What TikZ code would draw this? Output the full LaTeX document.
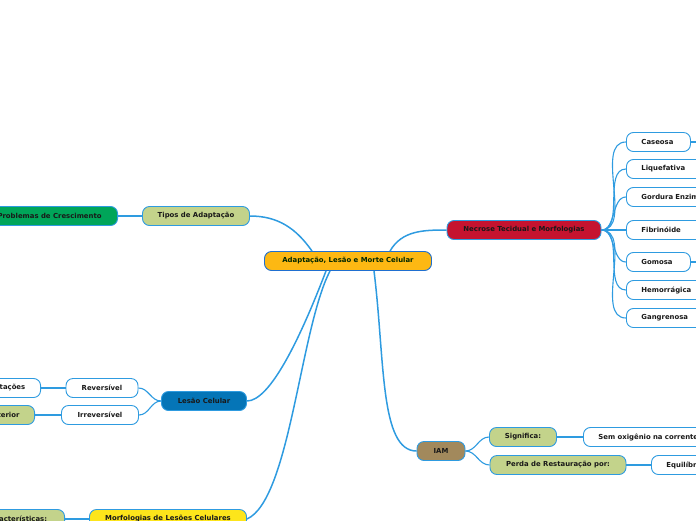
\documentclass[tikz,border=0pt]{standalone}
\usepackage{fontspec}
\setmainfont{DejaVu Sans}
\usepackage{tikz}
\usetikzlibrary{arrows}

\definecolor{linkblue}{HTML}{2E9BE0}
\definecolor{rootfill}{HTML}{FDB813}
\definecolor{rootline}{HTML}{1F6FD0}
\definecolor{olivefill}{HTML}{C3D38B}
\definecolor{greenfill}{HTML}{00A559}
\definecolor{crimsonfill}{HTML}{C5132F}
\definecolor{bluefill}{HTML}{0575B7}
\definecolor{brownfill}{HTML}{A2895C}
\definecolor{yellowfill}{HTML}{FDE51B}

\tikzset{
  topic/.style={draw=linkblue, line width=0.9pt, rounded corners=7pt,
    minimum height=19pt, inner sep=2pt, text=black!90,
    font=\fontsize{6.9}{8}\selectfont\bfseries},
  leaf/.style={topic, fill=white},
  leftleaf/.style={leaf, align=left, inner xsep=15pt, text width=#1, anchor=west},
  link/.style={draw=linkblue, line width=1.1pt},
  mainlink/.style={draw=linkblue, line width=1.5pt}
}

\begin{document}
\begin{tikzpicture}[x=1pt,y=1pt]
		\useasboundingbox (0,0) rectangle (696,-520);
		\clip (0,0) rectangle (696,-520);

		% --- centre ---
		\node[topic, fill=rootfill, draw=rootline, text=black!75!green!60!black, minimum width=167pt] (root) at (348,-261) {Adaptação, Lesão e Morte Celular};

		% --- upper left: adaptation ---
		\node[topic, fill=olivefill, minimum width=107pt] (tipos) at (196,-216) {Tipos de Adaptação};
		\node[topic, fill=greenfill, minimum width=136pt, anchor=east] (cresc) at (118,-216) {Problemas de Crescimento};

		% --- right: necrosis ---
		\node[topic, fill=crimsonfill, minimum width=154pt] (necrose) at (524,-230) {Necrose Tecidual e Morfologias};
		\node[leftleaf=34pt] (caseosa) at (626,-142) {Caseosa};
		\node[leftleaf=60pt] (liquef) at (626,-169) {Liquefativa};
		\node[leftleaf=90pt] (gordura) at (626,-197) {Gordura Enzimática};
		\node[leftleaf=60pt] (fibrin) at (626,-230) {Fibrinóide};
		\node[leftleaf=34pt] (gomosa) at (626,-262) {Gomosa};
		\node[leftleaf=60pt] (hemorr) at (626,-290) {Hemorrágica};
		\node[leftleaf=60pt] (gangren) at (626,-318) {Gangrenosa};
		\coordinate (caseosaout) at (710,-142);
		\coordinate (gomosaout) at (710,-262);

		% --- lower left: cell injury ---
		\node[topic, fill=bluefill, minimum width=85pt] (lesao) at (204,-401) {Lesão Celular};
		\node[leaf, minimum width=72pt] (revers) at (102,-388) {Reversível};
		\node[leaf, minimum width=77pt] (irrevers) at (100,-415) {Irreversível};
		\node[leaf, minimum width=76pt, anchor=east] (adapt) at (41,-388) {Adaptações};
		\node[topic, fill=olivefill, minimum width=66pt, anchor=east] (poster) at (35,-415) {Posterior};

		% --- bottom: IAM ---
		\node[topic, fill=brownfill, minimum width=48pt] (iam) at (441,-451) {IAM};
		\node[topic, fill=olivefill, minimum width=67pt] (signif) at (523,-437) {Significa:};
		\node[topic, fill=olivefill, minimum width=136pt] (perda) at (558,-465) {Perda de Restauração por:};
		\node[leftleaf=150pt] (semox) at (583,-437) {Sem oxigênio na corrente sanguínea};
		\node[leftleaf=60pt] (equil) at (651,-465) {Equilíbrio};

		% --- bottom left: morphology ---
		\node[topic, fill=yellowfill, minimum width=157pt] (morfo) at (168,-519) {Morfologias de Lesões Celulares};
		\node[topic, fill=olivefill, minimum width=96pt, anchor=east] (caract) at (65,-519) {Características:};

		% --- connectors from the centre ---
		\draw[mainlink] (tipos.east) to[out=0,in=125] ([xshift=-36]root.north);
		\draw[mainlink] ([xshift=42]root.north) to[out=60,in=180] (necrose.west);
		\draw[mainlink] ([xshift=-22]root.south) .. controls +(-26,-68) and +(23,0) .. (lesao.east);
		\draw[mainlink] ([xshift=-18]root.south) .. controls +(-30,-58) and +(43,19) .. (morfo.east);
		\draw[mainlink] ([xshift=26]root.south) .. controls +(11,-88) and +(-37,0) .. (iam.west);

		% --- second level ---
		\draw[link] (tipos.west) -- (cresc.east);
		\foreach \leafname in {caseosa,liquef,gordura,fibrin,gomosa,hemorr,gangren}
			\draw[link] (necrose.east) to[out=0,in=180,looseness=0.9] (\leafname.west);
		\draw[link] (caseosa.east) -- (caseosaout);
		\draw[link] (gomosa.east) -- (gomosaout);
		\draw[link] (lesao.west) to[out=180,in=0] (revers.east);
		\draw[link] (lesao.west) to[out=180,in=0] (irrevers.east);
		\draw[link] (revers.west) -- (adapt.east);
		\draw[link] (irrevers.west) -- (poster.east);
		\draw[link] (iam.east) to[out=0,in=180] (signif.west);
		\draw[link] (iam.east) to[out=0,in=180] (perda.west);
		\draw[link] (signif.east) -- (semox.west);
		\draw[link] (perda.east) -- (equil.west);
		\draw[link] (morfo.west) -- (caract.east);
	\end{tikzpicture}
\end{document}
